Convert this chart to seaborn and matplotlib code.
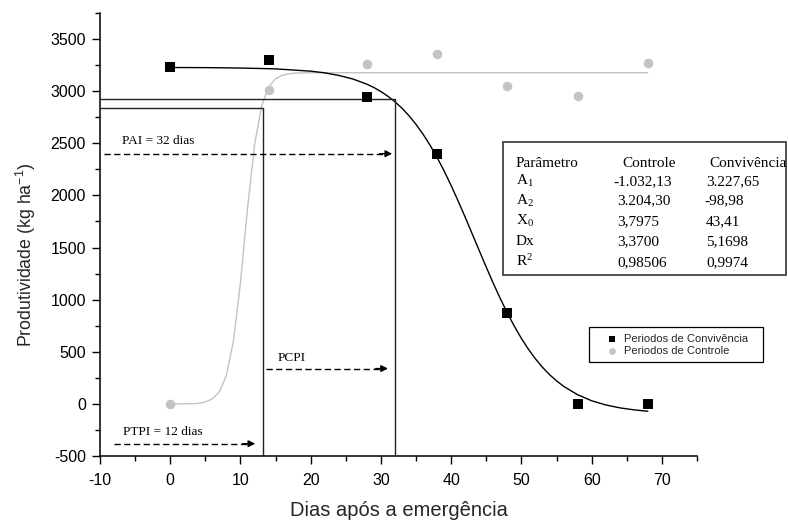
import numpy as np
import pandas as pd
import matplotlib.pyplot as plt
import matplotlib.ticker as mticker
from matplotlib.patches import Rectangle
import seaborn as sns

# observed data (days after emergence)
dias = [0, 14, 28, 38, 48, 58, 68]
convivencia = [3235, 3296, 2947, 2395, 875, 0, 0]
controle = [0, 3011, 3260, 3356, 3051, 2955, 3266]

# fitted curves
curva_conv_x = [0, 5, 10, 15, 20, 22, 24, 26, 28, 29, 30, 31, 32, 33, 34, 35, 36, 37,
                38, 39, 40, 41, 42, 43, 44, 45, 46, 47, 48, 49, 50, 51, 52, 53, 54, 55,
                56, 58, 60, 62, 64, 66, 68]
curva_conv_y = [3227, 3226, 3222, 3214, 3192, 3176, 3151, 3117, 3067, 3035, 2996, 2951,
                2898, 2836, 2764, 2681, 2587, 2481, 2363, 2234, 2094, 1945, 1790, 1630,
                1470, 1311, 1156, 1009, 871, 744, 628, 524, 432, 351, 281, 221, 169, 88,
                30, -10, -38, -57, -71]
curva_ctrl_x = [0, 1, 2, 3, 4, 5, 6, 7, 8, 9, 10, 11, 12, 13, 14, 15, 16, 17, 18, 19,
                20, 30, 40, 50, 60, 68]
curva_ctrl_y = [0, 0, 1, 2, 4, 19, 48, 116, 273, 602, 1165, 1874, 2482, 2855, 3039,
                3120, 3154, 3168, 3174, 3176, 3177, 3177, 3177, 3177, 3177, 3177]

# critical periods
x_pcpi = 13.2
y_pcpi = 2842
x_pai = 32
y_pai = 2925

# parameter table
tab_header = ['Parâmetro', 'Controle', 'Convivência']
tab_param = [r'A$_1$', r'A$_2$', r'X$_0$', 'Dx', r'R$^2$']
tab_controle = ['-1.032,13', '3.204,30', '3,7975', '3,3700', '0,98506']
tab_convivencia = ['3.227,65', '-98,98', '43,41', '5,1698', '0,9974']

sns.set_style('ticks')
plt.rcParams['font.family'] = ['Liberation Sans', 'DejaVu Sans']
plt.rcParams['mathtext.fontset'] = 'custom'
plt.rcParams['mathtext.rm'] = 'Liberation Serif'
plt.rcParams['mathtext.sf'] = 'Liberation Sans'
plt.rcParams['mathtext.default'] = 'rm'
plt.rcParams['axes.unicode_minus'] = False

W, H = 788, 524
fig = plt.figure(figsize=(W / 100, H / 100), dpi=100)
ax = fig.add_axes([100 / W, 1 - 456 / H, 597 / W, 443 / H])

pts = pd.DataFrame({'dias': dias, 'conv': convivencia, 'ctrl': controle})

# curves
sns.lineplot(x=curva_ctrl_x, y=curva_ctrl_y, ax=ax, color='#c2c2c2', lw=1,
             sort=False, estimator=None)
sns.lineplot(x=curva_conv_x, y=curva_conv_y, ax=ax, color='black', lw=1,
             sort=False, estimator=None)

# reference lines
lc = '#222222'
ax.plot([-10, x_pcpi], [y_pcpi, y_pcpi], color=lc, lw=1)
ax.plot([x_pcpi, x_pcpi], [-500, y_pcpi], color=lc, lw=1)
ax.plot([-10, x_pai], [y_pai, y_pai], color=lc, lw=1)
ax.plot([x_pai, x_pai], [-500, y_pai], color=lc, lw=1)

# points
sns.scatterplot(data=pts, x='dias', y='conv', ax=ax, marker='s', s=42, color='black',
                linewidth=0, label='Periodos de Convivência', zorder=5)
sns.scatterplot(data=pts, x='dias', y='ctrl', ax=ax, marker='o', s=48, color='#c4c4c4',
                linewidth=0, label='Periodos de Controle', zorder=5)


def dashed_arrow(x0, x1, y):
    ax.plot([x0, x1 - 1.0], [y, y], color='black', lw=1, dashes=(4.5, 2.5))
    ax.annotate('', xy=(x1, y), xytext=(x1 - 1.8, y),
                arrowprops=dict(arrowstyle='-|>', color='black', lw=1,
                                mutation_scale=10, shrinkA=0, shrinkB=0))


dashed_arrow(-9.5, 31.6, 2400)
dashed_arrow(13.6, 31.0, 339)
dashed_arrow(-8.0, 12.1, -382)

serif = dict(family='Liberation Serif', fontsize=9.5, color='black')
ax.text(-6.9, 2520, 'PAI = 32 dias', va='center', **serif)
ax.text(15.3, 439, 'PCPI', va='center', **serif)
ax.text(-6.7, -270, 'PTPI = 12 dias', va='center', **serif)

ax.set_xlim(-10, 75)
ax.set_ylim(-500, 3750)
ax.xaxis.set_major_locator(mticker.MultipleLocator(10))
ax.xaxis.set_minor_locator(mticker.MultipleLocator(5))
ax.yaxis.set_major_locator(mticker.MultipleLocator(500))
ax.yaxis.set_minor_locator(mticker.MultipleLocator(250))
ax.tick_params(which='major', direction='out', length=6, width=1, labelsize=11.5,
               color='black', labelcolor='black', pad=4)
ax.tick_params(axis='x', which='major', pad=6)
ax.tick_params(which='minor', direction='out', length=3.5, width=1, color='black')
sns.despine(ax=ax)
for s in ['left', 'bottom']:
    ax.spines[s].set_linewidth(1.1)
    ax.spines[s].set_color('black')

ax.set_xlabel('Dias após a emergência', fontsize=14.5)
ax.xaxis.set_label_coords(0.5, (456 - 510) / 443)
ax.set_ylabel(r'Produtividade (kg ha$\mathsf{^{-1}}$)', fontsize=12.8)
ax.yaxis.set_label_coords((26 - 100) / 597, (456 - 255) / 443)
ax.xaxis.label.set_va('center')
ax.yaxis.label.set_va('center')

# legend (extends past the axes, anchored in figure coords)
handles, labels = ax.get_legend_handles_labels()
leg = ax.legend(handles, labels, loc='center', bbox_to_anchor=(677 / W, 1 - 345 / H),
                bbox_transform=fig.transFigure, fontsize=8, frameon=False,
                markerscale=0.7, handletextpad=0.5, borderpad=0.3,
                labelspacing=0.25, handlelength=1.2)
fig.patches.append(Rectangle((589 / W, 1 - 362 / H), 174 / W, 35 / H,
                             transform=fig.transFigure, fill=False,
                             edgecolor='black', lw=0.9))

# parameter table box
fig.patches.append(Rectangle((503 / W, 1 - 275 / H), 283 / W, 133 / H,
                             transform=fig.transFigure, fill=False,
                             edgecolor='#333333', lw=1.2))
tab_font = dict(family='Liberation Serif', fontsize=11, color='black', va='baseline')
row_y = [166.5, 185, 204.5, 225, 245, 266.5]
fig.text(515.7 / W, 1 - row_y[0] / H, tab_header[0], **tab_font)
fig.text(622.7 / W, 1 - row_y[0] / H, tab_header[1], **tab_font)
fig.text(709 / W, 1 - row_y[0] / H, tab_header[2], **tab_font)
for i in range(len(tab_param)):
    yy = 1 - row_y[i + 1] / H
    fig.text(515.7 / W, yy, tab_param[i], **tab_font)
    c1 = tab_controle[i]
    c2 = tab_convivencia[i]
    fig.text((613 if c1.startswith('-') else 617) / W, yy, c1, **tab_font)
    fig.text((704 if c2.startswith('-') else 706) / W, yy, c2, **tab_font)

fig.savefig('out.png', dpi=100)
